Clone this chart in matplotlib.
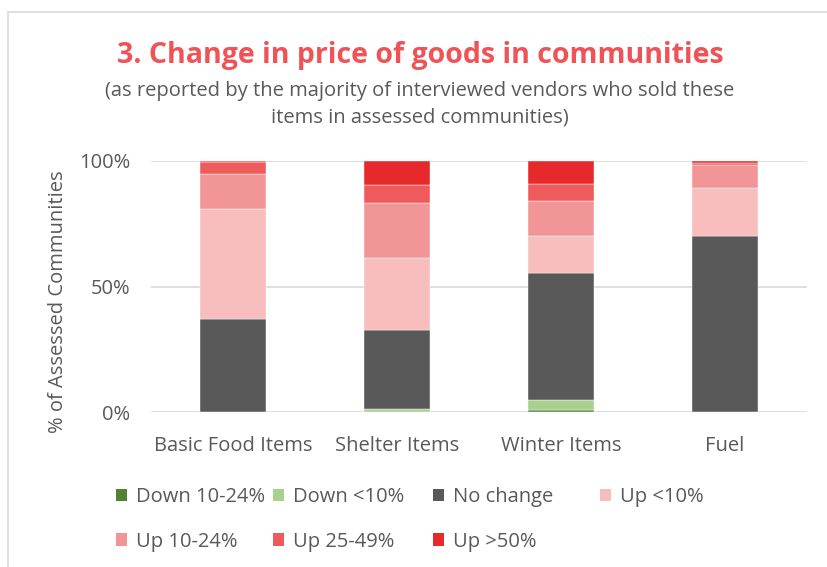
import matplotlib
matplotlib.use("Agg")
import matplotlib.pyplot as plt
from matplotlib.patches import Rectangle, Patch
import numpy as np

plt.rcParams["font.family"] = ["Open Sans", "DejaVu Sans"]

categories = ["Basic Food Items", "Shelter Items", "Winter Items", "Fuel"]
series_names = ["Down 10-24%", "Down <10%", "No change", "Up <10%",
                "Up 10-24%", "Up 25-49%", "Up >50%"]
# values in % of assessed communities, per category
down_10_24 = [0.0, 0.0, 0.8, 0.0]
down_lt10 = [0.0, 1.2, 4.0, 0.0]
no_change = [37.0, 31.5, 50.5, 70.2]
up_lt10 = [44.0, 28.5, 14.8, 19.2]
up_10_24 = [14.0, 22.2, 14.0, 9.0]
up_25_49 = [4.5, 7.2, 6.7, 0.8]
up_gt50 = [0.5, 9.4, 9.2, 0.8]
series = [down_10_24, down_lt10, no_change, up_lt10, up_10_24, up_25_49, up_gt50]
colors = ["#548235", "#A9D18E", "#595959", "#F8BDBD", "#F29596", "#EF5A5C", "#E8292C"]

TEXT = "#595959"
FS = 14.5

fig = plt.figure(figsize=(8.27, 5.67), dpi=100)
# outer chart frame
fig.patches.append(Rectangle((8 / 827, -0.1), 1.2, (567 - 12) / 567 + 0.1,
                             transform=fig.transFigure, fill=False,
                             edgecolor="#D9D9D9", linewidth=1.2))

ax = fig.add_axes([151 / 827, (567 - 412) / 567, 656 / 827, 251 / 567])
x = np.arange(len(categories))
bottom = np.zeros(len(categories))
for name, vals, c in zip(series_names, series, colors):
    v = np.array(vals) / 100.0
    ax.bar(x, v, width=0.4, bottom=bottom, color=c, label=name,
           edgecolor="white", linewidth=0.3, zorder=3)
    bottom += v

ax.set_xlim(-0.5, len(categories) - 0.5)
ax.set_ylim(0, 1)
ax.set_yticks([0, 0.5, 1.0])
ax.set_yticklabels(["0%", "50%", "100%"])
ax.set_xticks(x)
ax.set_xticklabels(categories)
ax.yaxis.grid(True, color="#D9D9D9", linewidth=1.2, zorder=0)
ax.set_axisbelow(True)
for s in ax.spines.values():
    s.set_visible(False)
ax.tick_params(axis="both", length=0, colors=TEXT, labelsize=FS)
ax.tick_params(axis="x", pad=17)
ax.tick_params(axis="y", pad=15)
ax.set_ylabel("% of Assessed Communities", color=TEXT, fontsize=FS)
ax.yaxis.set_label_coords(-0.127, 0.44)

fig.text(0.508, 1 - 56 / 567, "3. Change in price of goods in communities",
         ha="center", va="center", color="#EF5356", fontsize=20.5, fontweight="bold")
fig.text(0.508, 1 - 104 / 567,
         "(as reported by the majority of interviewed vendors who sold these\nitems in assessed communities)",
         ha="center", va="center", color=TEXT, fontsize=FS, linespacing=1.45)

# legend laid out in fixed-width columns, filled row by row
handles = [Patch(facecolor=c, edgecolor="none") for c in colors]
col_x = [116, 273, 433, 600]
for j, cx in enumerate(col_x):
    idx = [i for i in (j, j + 4) if i < len(series_names)]
    fig.legend([handles[i] for i in idx], [series_names[i] for i in idx],
               loc="upper left", bbox_to_anchor=(cx / 827, 1 - 487 / 567),
               frameon=False, fontsize=FS, labelcolor=TEXT, handlelength=0.55,
               handleheight=0.55, handletextpad=0.45, borderpad=0,
               borderaxespad=0, labelspacing=1.22)

fig.savefig("out.png", dpi=100)
